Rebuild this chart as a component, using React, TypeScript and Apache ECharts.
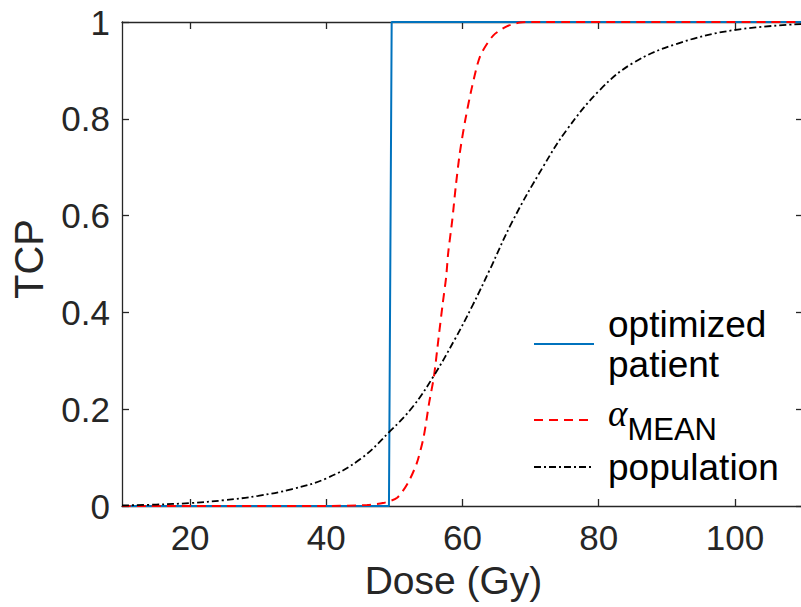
import React, { useEffect, useRef } from "react";
import * as echarts from "echarts";

// Tumour control probability versus dose for three models
const doseTicks = [20, 40, 60, 80, 100];
const tcpTicks = [0, 0.2, 0.4, 0.6, 0.8, 1];

// optimized patient: step response
const optimizedDose = [10, 49.2, 49.6, 110];
const optimizedTcp = [0, 0, 1, 1];

// alpha MEAN curve
const alphaDose = [10, 40, 46, 48.3, 50.4, 52.0, 53.3, 54.3, 55.1, 55.8, 56.5, 57.1, 57.6, 57.9, 58.5, 59.0, 59.6, 60.4, 61.4, 62.6, 64.5, 66.5, 68.4, 70, 110];
const alphaTcp = [0, 0, 0.002, 0.006, 0.017, 0.048, 0.089, 0.143, 0.213, 0.267, 0.349, 0.419, 0.473, 0.523, 0.591, 0.659, 0.729, 0.797, 0.866, 0.93, 0.972, 0.991, 0.999, 1, 1];

// population curve
const popDose = [10, 15, 20, 25, 30, 35, 40, 45, 49.4, 52.7, 55.7, 58.9, 61.5, 64.0, 67.4, 71.8, 75.3, 80.2, 85.0, 91.5, 99.7, 110];
const popTcp = [0.001, 0.003, 0.006, 0.012, 0.021, 0.035, 0.057, 0.097, 0.155, 0.205, 0.267, 0.345, 0.415, 0.488, 0.59, 0.7, 0.777, 0.86, 0.915, 0.955, 0.983, 0.996];

const zip = (xs: number[], ys: number[]) => xs.map((x, i) => [x, ys[i]]);

const AXIS_COLOR = "#262626";
const FONT = "Liberation Sans, Arial, sans-serif";

export default function App() {
  const ref = useRef<HTMLDivElement>(null);

  useEffect(() => {
    if (!ref.current) return;
    const chart = echarts.init(ref.current, undefined, { renderer: "svg" });

    const axisLine = { show: true, onZero: false, lineStyle: { color: AXIS_COLOR, width: 1.3 } };
    const tick = { show: true, inside: true, length: 7, lineStyle: { color: AXIS_COLOR, width: 1.3 } };

    const legendBase = {
      orient: "vertical" as const,
      left: 533,
      padding: 0,
      itemWidth: 60,
      itemHeight: 14,
      itemStyle: { opacity: 0 },
      textStyle: { fontSize: 37, fontFamily: FONT, color: "#000", padding: [0, 0, 0, 9], lineHeight: 40 },
    };

    chart.setOption({
      animation: false,
      backgroundColor: "#fff",
      grid: { left: 122, top: 22, right: -2, bottom: 101, containLabel: false, outerBoundsMode: "none" },
      xAxis: [
        {
          type: "value",
          min: 10,
          max: 110,
          position: "bottom",
          axisLine,
          axisTick: { ...tick, customValues: doseTicks },
          axisLabel: { customValues: doseTicks, fontSize: 35, fontFamily: FONT, color: AXIS_COLOR, margin: 14 },
          splitLine: { show: false },
          name: "Dose (Gy)",
          nameLocation: "middle",
          nameGap: 55,
          nameTextStyle: { fontSize: 39, fontFamily: FONT, color: AXIS_COLOR, padding: [0, 18, 0, 0] },
        },
        {
          type: "value",
          min: 10,
          max: 110,
          position: "top",
          axisLine,
          axisTick: { ...tick, customValues: doseTicks },
          axisLabel: { show: false },
          splitLine: { show: false },
        },
      ],
      yAxis: [
        {
          type: "value",
          min: 0,
          max: 1,
          position: "left",
          axisLine,
          axisTick: { ...tick, customValues: tcpTicks },
          axisLabel: { customValues: tcpTicks, fontSize: 35, fontFamily: FONT, color: AXIS_COLOR, margin: 12 },
          splitLine: { show: false },
          name: "TCP",
          nameLocation: "middle",
          nameGap: 73,
          nameTextStyle: { fontSize: 40, fontFamily: FONT, color: AXIS_COLOR, padding: [0, 0, 0, 10] },
        },
        {
          type: "value",
          min: 0,
          max: 1,
          position: "right",
          axisLine,
          axisTick: { ...tick, customValues: tcpTicks },
          axisLabel: { show: false },
          splitLine: { show: false },
        },
      ],
      legend: [
        { ...legendBase, top: 304, data: ["optimized patient"], formatter: () => "optimized\npatient" },
        {
          ...legendBase,
          top: 395,
          data: ["αMEAN"],
          formatter: () => "{a|α}{s|MEAN}",
          textStyle: {
            ...legendBase.textStyle,
            rich: {
              a: { fontSize: 37, fontFamily: "Liberation Serif, serif", fontStyle: "italic", color: "#000", verticalAlign: "top", lineHeight: 50 },
              s: { fontSize: 31, fontFamily: FONT, color: "#000", verticalAlign: "bottom", lineHeight: 50 },
            },
          },
        },
        { ...legendBase, top: 447, data: ["population"] },
      ],
      series: [
        {
          name: "optimized patient",
          type: "line",
          data: zip(optimizedDose, optimizedTcp),
          symbol: "none",
          clip: false,
          lineStyle: { color: "#0072BD", width: 2 },
          itemStyle: { color: "#0072BD" },
        },
        {
          name: "αMEAN",
          type: "line",
          data: zip(alphaDose, alphaTcp),
          symbol: "none",
          smooth: 0.25,
          clip: false,
          lineStyle: { color: "#FF0000", width: 2, type: [9, 6] },
          itemStyle: { color: "#FF0000" },
        },
        {
          name: "population",
          type: "line",
          data: zip(popDose, popTcp),
          symbol: "none",
          smooth: 0.4,
          clip: false,
          lineStyle: { color: "#000", width: 1.8, type: [7, 3, 2, 3] },
          itemStyle: { color: "#000" },
        },
      ],
    });

    return () => chart.dispose();
  }, []);

  return <div ref={ref} style={{ position: "fixed", left: 0, top: 0, width: 801, height: 607 }} />;
}
